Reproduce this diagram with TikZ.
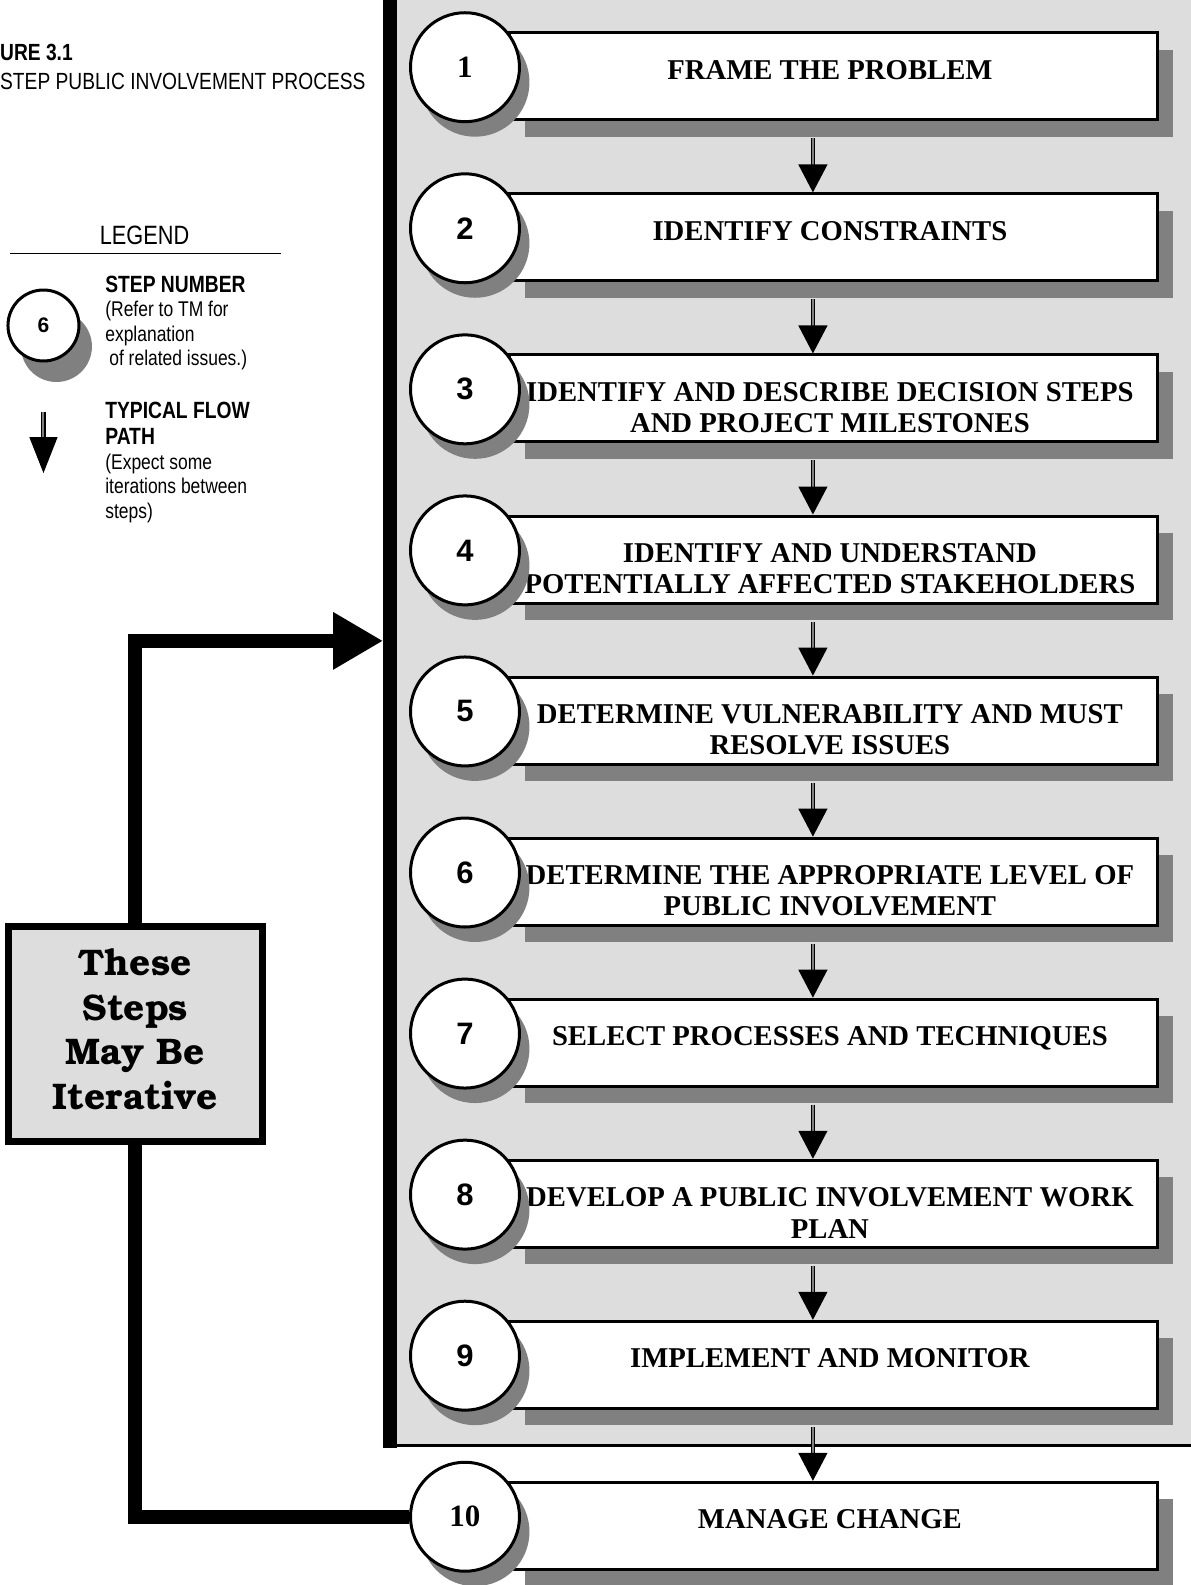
\documentclass[tikz,border=0pt]{standalone}
\usepackage{fontspec}
\setmainfont{Liberation Serif}
\newfontfamily\narrow[FakeStretch=0.82]{Liberation Sans}
\newfontfamily\sansb{Liberation Sans}
\newfontfamily\bonum{texgyrebonum-bold.otf}
\usetikzlibrary{arrows.meta,shadows,calc}
\definecolor{panelgray}{HTML}{DDDDDD}
\definecolor{shadowgray}{HTML}{808080}
\begin{document}
\begin{tikzpicture}[x=1.011pt,y=-1.011pt,
  stepbox/.style={draw, line width=3pt, fill=white, minimum width=648pt, minimum height=87pt,
    inner sep=0pt, anchor=north west,
    drop shadow={shadow xshift=15pt, shadow yshift=-17pt, fill=shadowgray, opacity=1}},
  steptext/.style={font=\fontsize{28.7}{31.3}\selectfont\bfseries, align=center, anchor=north, inner sep=0pt},
  stepnum/.style={circle, draw, line width=3pt, fill=white, minimum size=109pt, inner sep=0pt,
    font=\fontsize{31}{31}\selectfont,
    drop shadow={shadow xshift=10pt, shadow yshift=-15pt, fill=shadowgray, opacity=1}},
  legcirc/.style={circle, draw, line width=3pt, fill=white, minimum size=71pt, inner sep=0pt,
    font=\sansb\bfseries\fontsize{21}{21}\selectfont,
    drop shadow={shadow xshift=13pt, shadow yshift=-21pt, fill=shadowgray, opacity=1}},
  flow/.style={double=shadowgray, double distance=2pt, line width=1.3pt, -{Triangle[width=29pt,length=28pt]}},
  legtext/.style={font=\narrow\fontsize{21.3}{24.4}\selectfont, align=left, anchor=north west, inner sep=0pt},
  iterbox/.style={draw, line width=7pt, fill=panelgray, minimum width=254pt, minimum height=215pt,
    inner sep=0pt, font=\bonum\fontsize{37}{44.5}\selectfont, align=center},
  loopline/.style={line width=14pt, line join=miter}
]
\useasboundingbox (0,0) rectangle (1178,1568);

% title
\node[anchor=north west, inner sep=0pt, font=\narrow\fontsize{23.4}{28.5}\selectfont, align=left] (title) at (0,43.6)
  {{\bfseries URE 3.1}\\STEP PUBLIC INVOLVEMENT PROCESS};

% legend
\node[font=\narrow\fontsize{26.5}{26.5}\selectfont, inner sep=0pt] (leg) at (143,233) {LEGEND};
\coordinate (legL) at (10,251);
\coordinate (legR) at (278,251);
\draw[line width=1.5pt] (legL) -- (legR);
\node[legcirc] (lc) at (43,322) {6};
\node[legtext] (lt1) at (104,273) {{\bfseries\fontsize{23.5}{27}\selectfont STEP NUMBER}\\(Refer to TM for\\explanation\\\hspace*{4pt}of related issues.)};
\node[legtext] (lt2) at (104,398) {{\bfseries\fontsize{23.5}{27}\selectfont TYPICAL FLOW}\\[1.5pt]{\bfseries\fontsize{23.5}{27}\selectfont PATH}\\(Expect some\\iterations between\\steps)};
\coordinate (la1) at (43,408);
\coordinate (la2) at (43,468);
\draw[flow, -{Triangle[width=28pt,length=36pt]}] (la1) -- (la2);

% panel and bar
\fill[panelgray] (393,0) rectangle (1178,1430);
\fill[black] (379,0) rectangle (393,1432);
\draw[line width=2.2pt] (379,1430) -- (1178,1430);
\coordinate (barpt) at (379,634);

% step boxes
\foreach [count=\i] \txt in {
  {FRAME THE PROBLEM},
  {IDENTIFY CONSTRAINTS},
  {IDENTIFY AND DESCRIBE DECISION STEPS\\AND PROJECT MILESTONES},
  {IDENTIFY AND UNDERSTAND\\POTENTIALLY AFFECTED STAKEHOLDERS},
  {DETERMINE VULNERABILITY AND MUST\\RESOLVE ISSUES},
  {DETERMINE THE APPROPRIATE LEVEL OF\\PUBLIC INVOLVEMENT},
  {SELECT PROCESSES AND TECHNIQUES},
  {DEVELOP A PUBLIC INVOLVEMENT WORK\\PLAN},
  {IMPLEMENT AND MONITOR},
  {MANAGE CHANGE}}{
  \pgfmathsetmacro\t{31+(\i-1)*159.33}
  \node[stepbox] (b\i) at (503,\t) {};
  \node[steptext] (s\i) at (821,\t+28.5) {\txt};
}

% step circles
\foreach \i in {1,...,10}{
  \pgfmathsetmacro\t{31+(\i-1)*159.33}
  \node[stepnum] (c\i) at (460,\t+35.5) {\raisebox{-3pt}{\ifnum\i=1 \bfseries\else\ifnum\i=10 \bfseries\else\sansb\bfseries\fi\fi\i}};
}

% flow arrows
\foreach \i [evaluate=\i as \j using int(\i+1)] in {1,...,9}{
  \draw[flow] ([xshift=-21pt,yshift=-17pt]b\i.south) -- ([xshift=-21pt]b\j.north);
}

% iterative loop
\coordinate (iterc) at (134,1022.5);
\draw[loopline, -{Triangle[width=54pt,length=50pt]}] ([yshift=100pt]iterc) |- (barpt);
\draw[loopline] (c10.west) -| ([yshift=-100pt]iterc);
\node[iterbox] (iter) at (iterc) {\raisebox{3pt}{\begin{tabular}{@{}c@{}}These\\Steps\\May Be\\Iterative\end{tabular}}};
\end{tikzpicture}
\end{document}
